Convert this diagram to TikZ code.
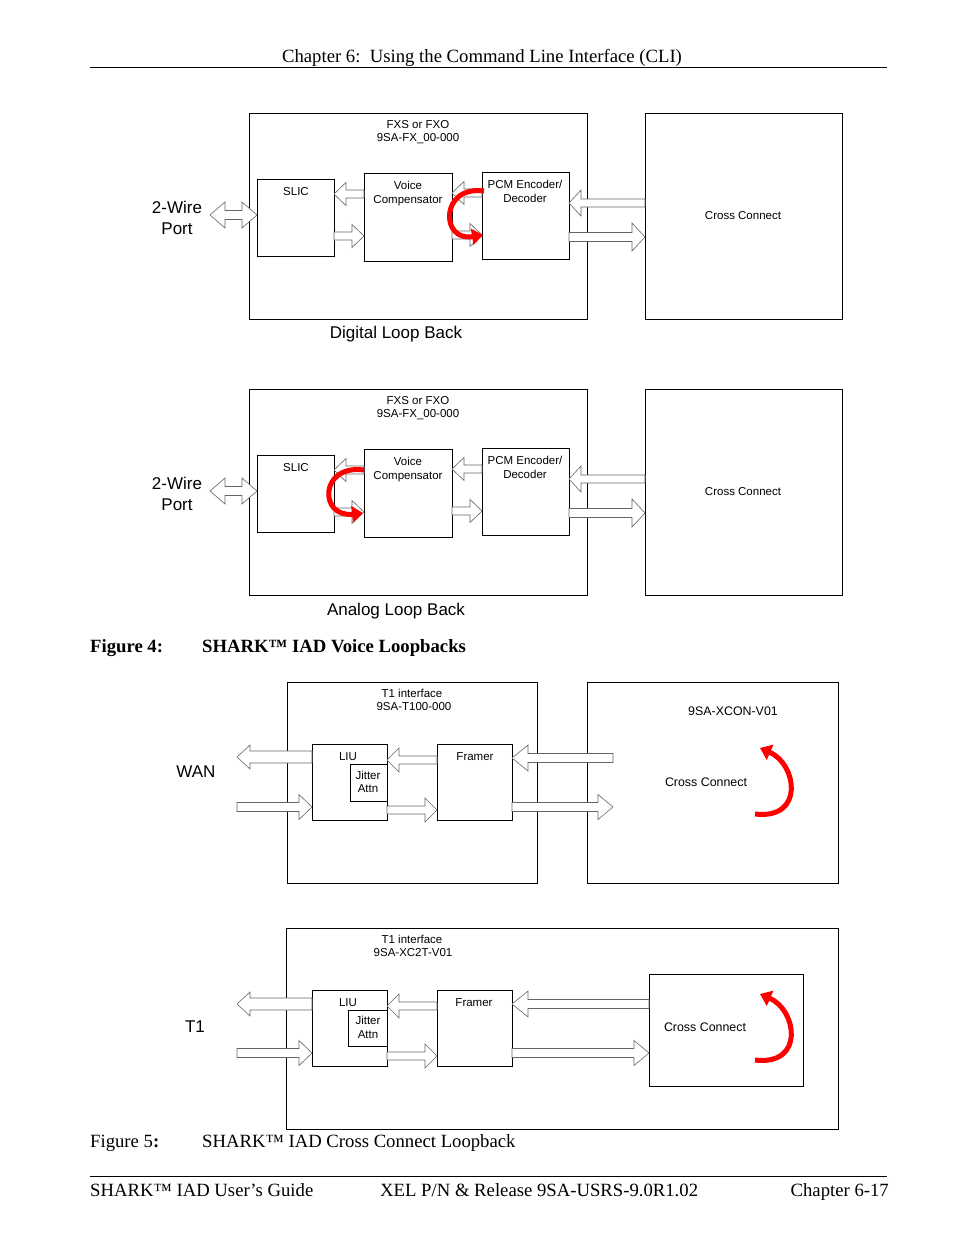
\documentclass[tikz,border=0pt]{standalone}
\usepackage{fontspec}
\setmainfont{Liberation Serif}
\newfontfamily\arial{Liberation Sans}
\usetikzlibrary{calc,arrows.meta}
\tikzset{
  box/.style={draw, line width=0.8pt, inner sep=0pt, outer sep=0pt, anchor=north west},
  sm/.style={font=\arial\fontsize{11.5}{13}\selectfont, anchor=base, inner sep=0pt},
  md/.style={font=\arial\fontsize{12.4}{14}\selectfont, anchor=base, inner sep=0pt},
  lg/.style={font=\arial\fontsize{17}{20}\selectfont, anchor=base, inner sep=0pt},
  serif/.style={font=\fontsize{18.7}{22}\selectfont, anchor=base west, inner sep=0pt},
  blkarrow/.style={draw=black!60, fill=white, line width=0.6pt, line join=miter},
  redloop/.style={draw=red, line width=5pt, -{Triangle[length=11pt,width=16pt]}},
}
\newcommand\blk[5]{%
  \draw[blkarrow] let \p1=#1, \p2=#2, \n1={sign(\x2-\x1)} in
  ({\x1},{\y1+#3}) -- ({\x2-(\n1)*#5},{\y1+#3}) -- ({\x2-(\n1)*#5},{\y1+#4}) -- ({\x2},{\y1})
  -- ({\x2-(\n1)*#5},{\y1-#4}) -- ({\x2-(\n1)*#5},{\y1-#3}) -- ({\x1},{\y1-#3}) -- cycle;}
\newcommand\dblk[5]{%
  \draw[blkarrow] let \p1=#1, \p2=#2 in
  ({\x1},{\y1}) -- ({\x1+#5},{\y1+#4}) -- ({\x1+#5},{\y1+#3}) -- ({\x2-#5},{\y1+#3}) -- ({\x2-#5},{\y1+#4})
  -- ({\x2},{\y1}) -- ({\x2-#5},{\y1-#4}) -- ({\x2-#5},{\y1-#3}) -- ({\x1+#5},{\y1-#3}) -- ({\x1+#5},{\y1-#4}) -- cycle;}
\begin{document}
\begin{tikzpicture}[x=1pt,y=-1pt]
\useasboundingbox[fill=white] (0,0) rectangle (954,1235);

% header / footer
\node[serif, anchor=base] (hdr) at (482,62) {Chapter 6:\ \ Using the Command Line Interface (CLI)};
\coordinate (hl1) at (90,67); \coordinate (hl2) at (887,67);
\draw[line width=0.9pt] (hl1) -- (hl2);
\coordinate (fl1) at (90,1176); \coordinate (fl2) at (887,1176);
\draw[line width=0.9pt] (fl1) -- (fl2);
\node[serif] (ft1) at (90,1196) {SHARK™ IAD User’s Guide};
\node[serif] (ft2) at (380,1196) {XEL P/N \& Release 9SA-USRS-9.0R1.02};
\node[serif, anchor=base east] (ft3) at (889,1196) {Chapter 6-17};

% ================= Diagram 1: Digital Loop Back
\node[box, minimum width=338pt, minimum height=206pt] (fxs1) at (249,113) {};
\node[box, minimum width=197pt, minimum height=206pt] (cc1) at (645,113) {};
\node[box, minimum width=77pt, minimum height=77pt] (slic1) at (257,179) {};
\node[box, minimum width=88pt, minimum height=88pt] (vc1) at (364,173) {};
\node[box, minimum width=87pt, minimum height=87pt] (pcm1) at (482,172) {};
\node[sm] (fxsA1) at (418,128) {FXS or FXO};
\node[sm] (fxsB1) at (418,141) {9SA-FX\_00-000};
\node[sm] (slicT1) at (296,195) {SLIC};
\node[sm] (vcA1) at (408,189) {Voice};
\node[sm] (vcB1) at (408,203) {Compensator};
\node[sm] (pcmA1) at (525,188) {PCM Encoder/};
\node[sm] (pcmB1) at (525,202) {Decoder};
\node[sm] (ccT1) at (743,219) {Cross Connect};
\node[lg] (wA1) at (177,213) {2-Wire};
\node[lg] (wB1) at (177,234) {Port};
\node[lg] (dlb) at (396,338) {Digital Loop Back};
\blk{(vc1.west |- 0,194)}{(slic1.east |- 0,194)}{4}{11.5}{12}
\blk{(slic1.east |- 0,236)}{(vc1.west |- 0,236)}{4}{11.5}{12}
\blk{(pcm1.west |- 0,193)}{(vc1.east |- 0,193)}{4}{11.5}{12}
\blk{(vc1.east |- 0,235)}{(pcm1.west |- 0,235)}{4}{11.5}{12}
\blk{(cc1.west |- 0,203)}{(pcm1.east |- 0,203)}{4}{13}{12}
\blk{(pcm1.east |- 0,237)}{(cc1.west |- 0,237)}{4.5}{14}{13}
\coordinate (port1) at (210,215);
\dblk{(port1)}{(slic1.west |- port1)}{4.5}{13}{15}
\draw[redloop] (484,191) .. controls (440,185) and (440,242) .. (483,235);

% ================= Diagram 2: Analog Loop Back
\node[box, minimum width=338pt, minimum height=206pt] (fxs2) at (249,389) {};
\node[box, minimum width=197pt, minimum height=206pt] (cc2) at (645,389) {};
\node[box, minimum width=77pt, minimum height=77pt] (slic2) at (257,455) {};
\node[box, minimum width=88pt, minimum height=88pt] (vc2) at (364,449) {};
\node[box, minimum width=87pt, minimum height=87pt] (pcm2) at (482,448) {};
\node[sm] (fxsA2) at (418,404) {FXS or FXO};
\node[sm] (fxsB2) at (418,417) {9SA-FX\_00-000};
\node[sm] (slicT2) at (296,471) {SLIC};
\node[sm] (vcA2) at (408,465) {Voice};
\node[sm] (vcB2) at (408,479) {Compensator};
\node[sm] (pcmA2) at (525,464) {PCM Encoder/};
\node[sm] (pcmB2) at (525,478) {Decoder};
\node[sm] (ccT2) at (743,495) {Cross Connect};
\node[lg] (wA2) at (177,489) {2-Wire};
\node[lg] (wB2) at (177,510) {Port};
\node[lg] (alb) at (396,615) {Analog Loop Back};
\blk{(vc2.west |- 0,470)}{(slic2.east |- 0,470)}{4}{11.5}{12}
\blk{(slic2.east |- 0,512)}{(vc2.west |- 0,512)}{4}{11.5}{12}
\blk{(pcm2.west |- 0,469)}{(vc2.east |- 0,469)}{4}{11.5}{12}
\blk{(vc2.east |- 0,511)}{(pcm2.west |- 0,511)}{4}{11.5}{12}
\blk{(cc2.west |- 0,479)}{(pcm2.east |- 0,479)}{4}{13}{12}
\blk{(pcm2.east |- 0,513)}{(cc2.west |- 0,513)}{4.5}{14}{13}
\coordinate (port2) at (210,491);
\dblk{(port2)}{(slic2.west |- port2)}{4.5}{13}{15}
\draw[redloop] (364,470) .. controls (319,464) and (319,518) .. (363,513);

% Figure 4 caption
\node[serif, font=\bfseries\fontsize{18.7}{22}\selectfont] (f4a) at (90,652) {Figure 4:};
\node[serif, font=\bfseries\fontsize{18.7}{22}\selectfont] (f4b) at (202,652) {SHARK™ IAD Voice Loopbacks};

% ================= Diagram 3
\node[box, minimum width=250pt, minimum height=201pt] (t1a) at (287,682) {};
\node[box, minimum width=251pt, minimum height=201pt] (xcon) at (587,682) {};
\node[box, minimum width=75pt, minimum height=76pt] (liu3) at (312,744) {};
\node[box, minimum width=37pt, minimum height=37pt] (jit3) at (350,764) {};
\node[box, minimum width=75pt, minimum height=76pt] (fr3) at (437,744) {};
\node[sm] (t1aA) at (412,697) {T1 interface};
\node[sm] (t1aB) at (414,710) {9SA-T100-000};
\node[md] (xconT) at (733,715) {9SA-XCON-V01};
\node[md] (xconC) at (706,786) {Cross Connect};
\node[sm] (liuT3) at (348,760) {LIU};
\node[sm] (jitA3) at (368,779) {Jitter};
\node[sm] (jitB3) at (368,792) {Attn};
\node[sm] (frT3) at (475,760) {Framer};
\node[lg] (wan) at (196,777) {WAN};
\coordinate (wanout) at (237,757);
\coordinate (wanin) at (237,807);
\coordinate (xcA) at (613,758);
\coordinate (xcB) at (613,807);
\blk{(liu3.west |- wanout)}{(wanout)}{6}{12}{13}
\blk{(wanin)}{(liu3.west |- wanin)}{4.5}{12.5}{13}
\blk{(fr3.west |- 0,760)}{(liu3.east |- 0,760)}{4}{12}{12}
\blk{(liu3.east |- 0,810)}{(fr3.west |- 0,810)}{4}{12}{12}
\blk{(xcA)}{(fr3.east |- xcA)}{4.5}{13}{16}
\blk{(fr3.east |- xcB)}{(xcB)}{4.5}{12.5}{15}
\draw[redloop] (755,814) .. controls (805,820) and (797,764) .. (760,748);

% ================= Diagram 4
\node[box, minimum width=552pt, minimum height=201pt] (t1b) at (286,928) {};
\node[box, minimum width=154pt, minimum height=112pt] (cc4) at (649,974) {};
\node[box, minimum width=75pt, minimum height=76pt] (liu4) at (312,990) {};
\node[box, minimum width=39pt, minimum height=36pt] (jit4) at (348,1010) {};
\node[box, minimum width=75pt, minimum height=76pt] (fr4) at (437,990) {};
\node[sm] (t1bA) at (412,943) {T1 interface};
\node[sm] (t1bB) at (413,956) {9SA-XC2T-V01};
\node[md] (cc4T) at (705,1031) {Cross Connect};
\node[sm] (liuT4) at (348,1006) {LIU};
\node[sm] (jitA4) at (368,1024) {Jitter};
\node[sm] (jitB4) at (368,1038) {Attn};
\node[sm] (frT4) at (474,1006) {Framer};
\node[lg] (t1lab) at (195,1032) {T1};
\coordinate (t1out) at (237,1004);
\coordinate (t1in) at (237,1053);
\blk{(liu4.west |- t1out)}{(t1out)}{6}{12}{13}
\blk{(t1in)}{(liu4.west |- t1in)}{4.5}{12.5}{13}
\blk{(fr4.west |- 0,1006)}{(liu4.east |- 0,1006)}{4}{12}{12}
\blk{(liu4.east |- 0,1056)}{(fr4.west |- 0,1056)}{4}{12}{12}
\blk{(cc4.west |- 0,1004)}{(fr4.east |- 0,1004)}{4.5}{13}{16}
\blk{(fr4.east |- 0,1053)}{(cc4.west |- 0,1053)}{4.5}{12.5}{15}
\draw[redloop] (755,1060) .. controls (805,1066) and (797,1010) .. (760,994);

% Figure 5 caption
\node[serif] (f5a) at (90,1147) {Figure 5\textbf{:}};
\node[serif] (f5b) at (202,1147) {SHARK™ IAD Cross Connect Loopback};
\end{tikzpicture}
\end{document}
